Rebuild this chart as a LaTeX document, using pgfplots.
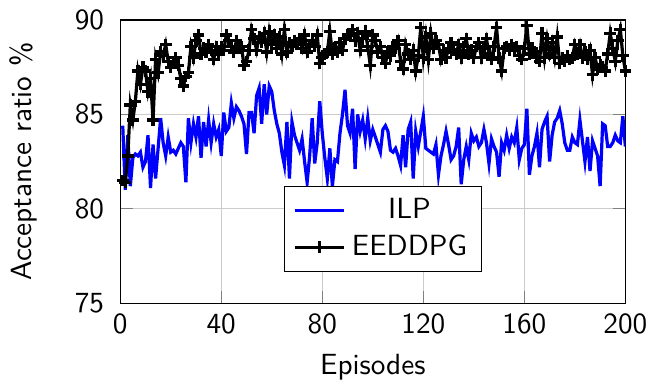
\documentclass[border=0pt]{standalone}
\usepackage{pgfplots}
\usepackage{pgfplotstable}
\pgfplotsset{compat=1.18}
\renewcommand{\familydefault}{\sfdefault}
\pgfplotstableread{
y
84.4
81.0
83.9
81.2
82.7
82.9
82.8
83.0
82.2
82.5
83.9
81.1
83.4
81.6
83.2
84.8
83.5
82.8
83.8
83.0
83.1
82.9
83.2
83.5
83.3
81.4
84.8
83.5
84.5
83.8
84.9
82.7
84.6
83.3
84.7
83.5
84.5
83.8
84.2
82.8
85.1
84.1
84.3
85.6
84.8
85.4
85.2
84.9
84.5
82.9
85.1
85.1
84.0
86.0
86.4
84.5
86.6
85.0
86.5
86.2
85.2
84.5
84.0
83.0
82.3
84.6
81.6
84.6
83.9
83.5
83.1
83.7
82.5
81.4
82.8
84.8
82.4
83.5
85.7
84.0
82.7
81.6
83.2
81.2
82.6
82.5
84.0
85.0
86.3
84.4
84.0
85.3
82.1
85.0
84.1
84.7
83.7
84.8
83.6
84.2
83.8
83.4
83.0
84.2
84.4
84.1
83.1
83.0
83.2
82.8
82.3
83.9
82.2
84.2
84.6
81.6
84.1
83.3
84.1
84.9
83.2
83.1
83.0
82.9
83.4
81.8
82.8
83.4
84.1
83.4
82.6
82.8
83.3
84.3
81.3
82.6
83.3
82.6
84.0
83.6
83.8
83.3
83.5
84.2
83.5
82.4
83.7
83.3
83.0
81.7
83.5
83.1
83.9
83.2
83.8
83.5
84.3
82.6
83.2
83.4
85.3
81.8
82.8
83.3
84.0
82.2
84.2
84.6
84.9
82.5
83.9
84.6
84.8
85.2
84.5
83.5
83.1
83.1
83.8
83.5
83.4
84.7
83.6
82.5
83.8
82.0
83.6
83.2
82.8
81.2
84.5
84.4
83.3
83.3
83.5
83.9
83.6
83.5
84.9
83.3
}\ilp
\pgfplotstableread{
y
81.5
81.4
82.8
85.5
84.7
85.7
87.3
86.6
87.5
87.3
86.2
86.9
84.7
87.9
87.2
88.3
88.1
88.7
87.8
87.5
87.7
88.0
87.6
86.9
86.5
87.0
87.2
88.6
88.0
88.9
89.2
88.2
88.5
88.3
88.7
88.4
87.9
88.6
88.2
88.6
88.4
89.2
88.9
88.6
88.3
88.9
88.5
88.6
87.6
87.8
88.4
89.5
89.0
88.4
89.1
88.8
89.3
88.3
89.4
88.7
89.2
88.5
89.1
88.2
89.5
88.3
88.8
88.6
88.9
88.7
89.0
88.5
89.2
88.3
88.7
88.9
88.6
89.2
87.7
88.0
88.2
88.3
89.4
88.2
88.5
88.3
88.8
88.4
89.0
89.2
89.2
89.5
88.9
89.3
88.4
89.0
89.4
88.6
87.6
89.2
88.9
88.3
88.6
88.0
87.7
88.3
88.1
88.6
88.5
88.9
87.8
87.4
88.7
88.2
87.9
88.4
87.3
88.1
89.6
88.0
89.1
87.9
89.3
88.5
88.9
88.7
87.9
88.4
88.0
88.5
88.8
88.4
88.2
88.7
88.0
88.6
89.0
88.2
88.4
88.0
88.6
88.8
88.0
88.5
89.0
88.2
87.9
88.6
89.6
88.0
87.3
88.5
88.6
88.4
88.7
88.5
88.6
88.1
87.9
88.5
89.7
88.2
88.5
88.3
88.0
87.8
89.3
88.0
89.0
88.2
88.8
88.0
89.1
87.7
88.0
87.8
88.1
87.9
88.0
88.7
88.2
88.7
88.0
88.3
87.9
88.4
87.1
88.0
87.4
87.6
87.5
87.3
88.2
89.3
88.5
87.8
88.9
89.5
88.1
87.3
}\eeddpg
\begin{document}
\begin{tikzpicture}
\begin{axis}[
  scale only axis,
  width=173pt, height=97pt,
  xmin=0, xmax=200, ymin=75, ymax=90,
  xtick={0,40,80,120,160,200},
  ytick={75,80,85,90},
  grid=major,
  major grid style={gray!40},
  tick style={black!50},
  /pgf/number format/assume math mode=true,
  ticklabel style={font=\sffamily},
  yticklabel style={xshift=-2pt},
  xlabel={Episodes},
  ylabel={Acceptance ratio \%},
  ylabel shift=6pt,
  legend style={at={(0.52,0.11)}, anchor=south, draw=black, cells={anchor=center}},
  legend cell align=center,
]
\addplot[blue, line width=1.1pt] table[x expr=\coordindex+1, y=y]{\ilp};
\addlegendentry{ILP}
\addplot[black, line width=1.1pt, mark=+, mark size=2pt] table[x expr=\coordindex+1, y=y]{\eeddpg};
\addlegendentry{EEDDPG}
\end{axis}
\end{tikzpicture}
\end{document}
